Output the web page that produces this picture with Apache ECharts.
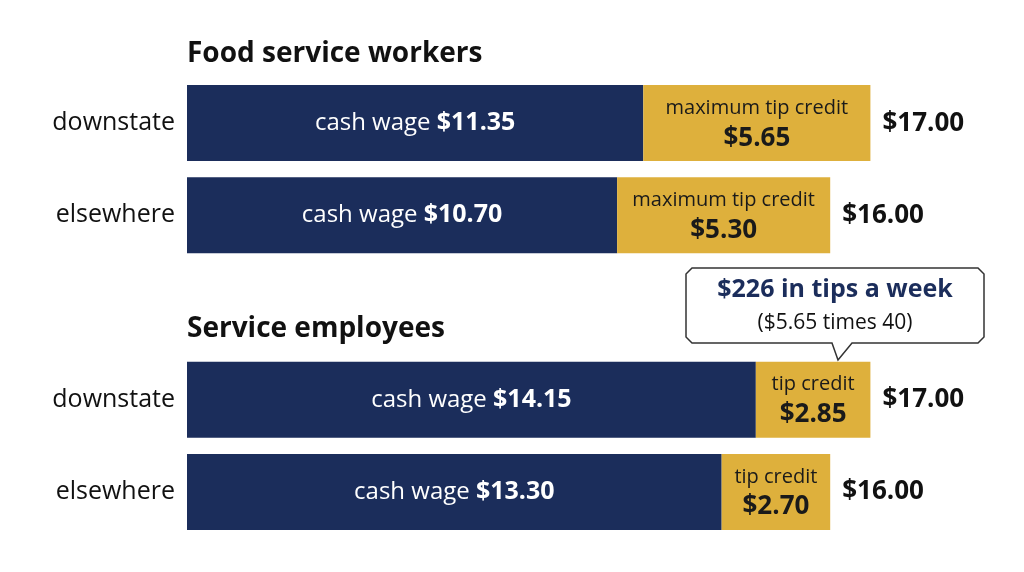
<!DOCTYPE html>
<html><head><meta charset="utf-8">
<script src="https://cdn.jsdelivr.net/npm/echarts@6/dist/echarts.min.js"></script>
<style>html,body{margin:0;background:#fff}#chart{width:1024px;height:572px}</style>
</head><body><div id="chart"></div>
<script>
var rows = ['downstate', 'elsewhere', '', 'downstate ', 'elsewhere '];
var cashWage = [11.35, 10.70, null, 14.15, 13.30];
var tipCredit = [5.65, 5.30, null, 2.85, 2.70];
var tipNames = ['maximum tip credit', 'maximum tip credit', '', 'tip credit', 'tip credit'];
var totals = ['$17.00', '$16.00', '', '$17.00', '$16.00'];
var navy = '#1b2d5b', gold = '#deb03c';
var font = 'Open Sans';

var chart = echarts.init(document.getElementById('chart'));
chart.setOption({
  animation: false,
  textStyle: { fontFamily: font },
  grid: { left: 187, right: 33, top: 77, bottom: 34 },
  xAxis: { type: 'value', min: 0, max: 20, show: false },
  yAxis: {
    type: 'category', data: rows, inverse: true,
    axisLine: { show: false }, axisTick: { show: false },
    axisLabel: { color: '#111', fontSize: 25, margin: 12, formatter: function (v) { return v.trim(); } }
  },
  series: [{
    type: 'bar', stack: 'w', data: cashWage, barWidth: 76,
    itemStyle: { color: navy },
    label: {
      show: true, position: 'inside', color: '#fff', fontSize: 24,
      formatter: function (p) { return 'cash wage {b|$' + p.value.toFixed(2) + '}'; },
      rich: { b: { fontWeight: 'bold', fontSize: 25, color: '#fff' } }
    }
  }, {
    type: 'bar', stack: 'w', data: tipCredit, barWidth: 76,
    itemStyle: { color: gold },
    label: {
      show: true, position: 'inside', color: '#1a1a1a', fontSize: 20, lineHeight: 30,
      formatter: function (p) { return tipNames[p.dataIndex] + '\n{b|$' + p.value.toFixed(2) + '}'; },
      rich: { b: { fontWeight: 'bold', fontSize: 26, color: '#1a1a1a', lineHeight: 30 } }
    }
  }, {
    type: 'bar', stack: 'w', data: [0.001, 0.001, null, 0.001, 0.001], barWidth: 76,
    itemStyle: { color: 'rgba(0,0,0,0)' }, silent: true,
    label: {
      show: true, position: 'right', distance: 12, color: '#111', fontSize: 26, fontWeight: 'bold',
      formatter: function (p) { return totals[p.dataIndex]; }
    }
  }],
  graphic: [
    { type: 'text', left: 187, top: 40, style: { text: 'Food service workers', fontSize: 28, fontWeight: 'bold', fill: '#111', fontFamily: font } },
    { type: 'text', left: 187, top: 315, style: { text: 'Service employees', fontSize: 28, fontWeight: 'bold', fill: '#111', fontFamily: font } },
    { type: 'polygon', shape: { points: [[692, 268], [978, 268], [984, 274], [984, 337], [978, 343], [852, 343], [838, 360], [832, 343], [692, 343], [686, 337], [686, 274]] },
      style: { fill: '#fff', stroke: '#333', lineWidth: 1.5 } },
    { type: 'text', x: 835, y: 290, style: { text: '$226 in tips a week', align: 'center', verticalAlign: 'middle', fontSize: 25, fontWeight: 'bold', fill: navy, fontFamily: font } },
    { type: 'text', x: 835, y: 323, style: { text: '($5.65 times 40)', align: 'center', verticalAlign: 'middle', fontSize: 21, fill: '#111', fontFamily: font } }
  ]
});
</script></body></html>
